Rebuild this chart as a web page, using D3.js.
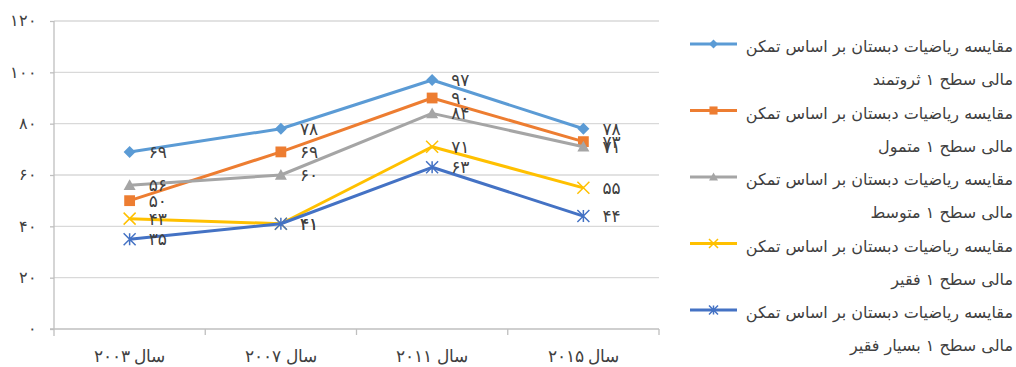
<!DOCTYPE html>
<html>
<head>
<meta charset="utf-8">
<script src="https://cdn.jsdelivr.net/npm/d3@7"></script>
<style>
  html, body { margin: 0; padding: 0; background: #fff; }
  svg { display: block; font-family: "DejaVu Sans", sans-serif; }
</style>
</head>
<body>
<svg id="chart" width="1016" height="367"></svg>
<script>
// Categories (survey years)
const categories = ["سال ۲۰۰۳", "سال ۲۰۰۷", "سال ۲۰۱۱", "سال ۲۰۱۵"];

// Series names (two legend lines each)
const seriesNames = [
  ["مقایسه ریاضیات دبستان بر اساس تمکن", "مالی سطح ۱ ثروتمند"],
  ["مقایسه ریاضیات دبستان بر اساس تمکن", "مالی سطح ۱ متمول"],
  ["مقایسه ریاضیات دبستان بر اساس تمکن", "مالی سطح ۱ متوسط"],
  ["مقایسه ریاضیات دبستان بر اساس تمکن", "مالی سطح ۱ فقیر"],
  ["مقایسه ریاضیات دبستان بر اساس تمکن", "مالی سطح ۱ بسیار فقیر"]
];

// Series values
const wealthy    = [69, 78, 97, 78];
const affluent   = [50, 69, 90, 73];
const average    = [56, 60, 84, 71];
const poor       = [43, 41, 71, 55];
const veryPoor   = [35, 41, 63, 44];

// Value axis ticks
const yTicks = [0, 20, 40, 60, 80, 100, 120];

const seriesValues = [wealthy, affluent, average, poor, veryPoor];
const colors = ["#5B9BD5", "#ED7D31", "#A5A5A5", "#FFC000", "#4472C4"];
const markers = ["diamond", "square", "triangle", "x", "star"];

const fa = n => String(n).replace(/\d/g, d => "۰۱۲۳۴۵۶۷۸۹"[d]);

const svg = d3.select("#chart");
const plot = { left: 54, right: 659, top: 21, bottom: 329 };

const x = d3.scaleBand().domain(categories).range([plot.left, plot.right]);
const y = d3.scaleLinear().domain([0, 120]).range([plot.bottom, plot.top]);
const cx = c => x(c) + x.bandwidth() / 2;

// Horizontal gridlines
svg.append("g").selectAll("line").data(yTicks.filter(t => t > 0)).join("line")
  .attr("x1", plot.left).attr("x2", plot.right)
  .attr("y1", d => y(d)).attr("y2", d => y(d))
  .attr("stroke", "#D9D9D9").attr("stroke-width", 1.3);

// Value axis
const yAxis = svg.append("g").attr("transform", `translate(${plot.left},0)`)
  .call(d3.axisLeft(y).tickValues(yTicks).tickSize(4).tickFormat(fa));
yAxis.select(".domain").attr("stroke", "#BFBFBF").attr("stroke-width", 1.3)
  .attr("d", `M0,${plot.top}V${plot.bottom + 7}`);
yAxis.selectAll(".tick line").attr("stroke", "#BFBFBF").attr("stroke-width", 1.3);
yAxis.selectAll(".tick text").attr("x", -17).attr("dy", "0.3em")
  .attr("fill", "#404040").style("font-size", "16px");

// Category axis
const xAxis = svg.append("g").attr("transform", `translate(0,${plot.bottom})`)
  .call(d3.axisBottom(x).tickSize(0).tickFormat(d => d));
xAxis.select(".domain").attr("stroke", "#BFBFBF").attr("stroke-width", 1.3)
  .attr("d", `M${plot.left - 4},0H${plot.right}`);
xAxis.selectAll(".tick text").attr("y", 33).attr("dy", "0")
  .attr("fill", "#404040").style("font-size", "17px");
// Tick marks between categories
const bounds = categories.map(c => x(c)).concat([x(categories[categories.length - 1]) + x.bandwidth()]);
xAxis.append("g").selectAll("line").data(bounds.slice(1)).join("line")
  .attr("x1", d => d).attr("x2", d => d).attr("y1", 0).attr("y2", 6)
  .attr("stroke", "#BFBFBF").attr("stroke-width", 1.3);

// Marker shapes
function drawMarker(g, type, color, size) {
  const s = size / 2;
  if (type === "diamond") {
    g.append("path").attr("d", `M0,${-s}L${s},0L0,${s}L${-s},0Z`).attr("fill", color);
  } else if (type === "square") {
    g.append("rect").attr("x", -s * 0.9).attr("y", -s * 0.9)
      .attr("width", s * 1.8).attr("height", s * 1.8).attr("fill", color);
  } else if (type === "triangle") {
    g.append("path").attr("d", `M0,${-s}L${s},${s * 0.8}L${-s},${s * 0.8}Z`).attr("fill", color);
  } else if (type === "x") {
    g.append("path").attr("d", `M${-s},${-s}L${s},${s}M${s},${-s}L${-s},${s}`)
      .attr("stroke", color).attr("stroke-width", 1.5).attr("fill", "none");
  } else if (type === "star") {
    g.append("path").attr("d", `M${-s},${-s}L${s},${s}M${s},${-s}L${-s},${s}M0,${-s}V${s}`)
      .attr("stroke", color).attr("stroke-width", 1.5).attr("fill", "none");
  }
}

const line = d3.line().x((d, i) => cx(categories[i])).y(d => y(d));

seriesValues.forEach((vals, k) => {
  const g = svg.append("g");
  g.append("path").datum(vals).attr("d", line)
    .attr("fill", "none").attr("stroke", colors[k]).attr("stroke-width", 3)
    .attr("stroke-linejoin", "round");
  vals.forEach((v, i) => {
    const m = g.append("g").attr("transform", `translate(${cx(categories[i])},${y(v)})`);
    drawMarker(m, markers[k], colors[k], 12);
  });
});

// Data labels on top
seriesValues.forEach((vals, k) => {
  svg.append("g").selectAll("text").data(vals).join("text")
    .attr("x", (d, i) => cx(categories[i]) + 19)
    .attr("y", d => y(d))
    .attr("dy", "0.35em")
    .attr("fill", "#404040")
    .style("font-size", "17px")
    .text(d => fa(d));
});

// Legend
const legend = svg.append("g");
seriesNames.forEach((name, k) => {
  const top = 47 + k * 66.5;
  const g = legend.append("g").attr("transform", `translate(0,${top})`);
  g.append("line").attr("x1", 690).attr("x2", 737).attr("y1", -3).attr("y2", -3)
    .attr("stroke", colors[k]).attr("stroke-width", 3);
  const m = g.append("g").attr("transform", "translate(713.5,-3)");
  drawMarker(m, markers[k], colors[k], 9);
  name.forEach((t, j) => {
    g.append("text").attr("x", 1013).attr("y", j * 33 + 5)
      .attr("text-anchor", "end").attr("fill", "#404040")
      .style("font-size", "16px").text(t);
  });
});
</script>
</body>
</html>
